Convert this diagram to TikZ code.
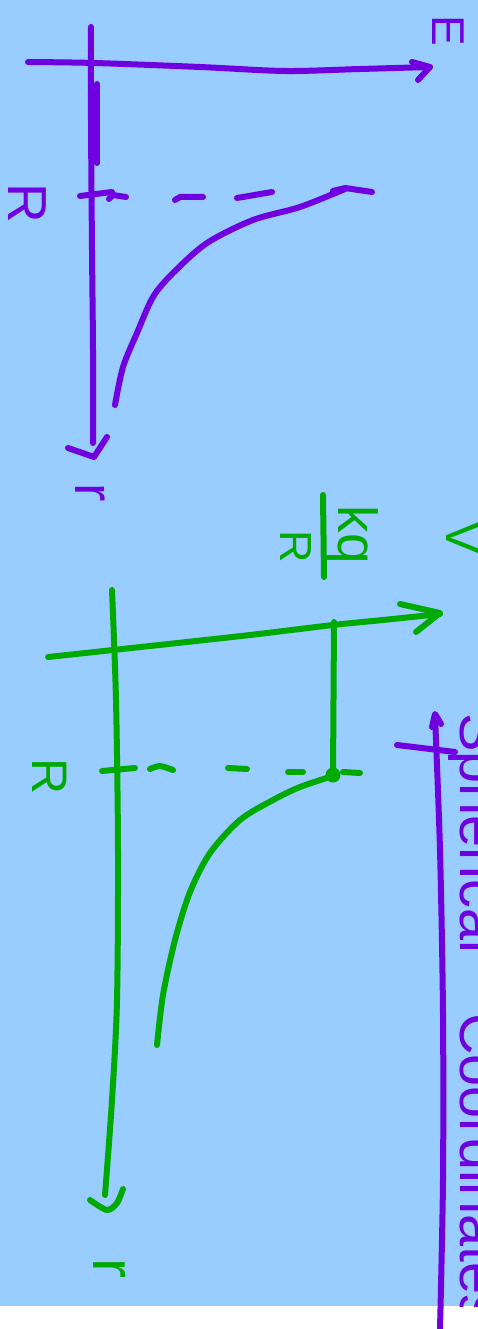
\documentclass[tikz,border=0pt]{standalone}
\usepackage{fontspec}
\setmainfont{Liberation Sans}
\definecolor{bgblue}{RGB}{153,204,255}
\definecolor{pen1}{RGB}{112,0,224}
\definecolor{pen2}{RGB}{0,170,0}
\tikzset{
  ink/.style={line width=6pt,line cap=round,line join=round},
  pur/.style={ink,draw=pen1},
  grn/.style={ink,draw=pen2},
  lbl/.style={rotate=-90,inner sep=0pt,font=\fontsize{#1}{#1}\selectfont},
}
\begin{document}
\begin{tikzpicture}[x=1pt,y=-1pt]
\useasboundingbox (0,0) rectangle (478,1329);
\fill[white] (0,0) rectangle (478,1329);
\fill[bgblue] (0,0) rectangle (478,1306);

% ---------- purple: field E(r) ----------
\draw[pur] plot[smooth] coordinates {(28,62) (95,63) (200,67) (285,71) (360,69) (430,67)};
\draw[pur] (412,62) -- (430,67) -- (418,80);
\draw[pur] plot[smooth] coordinates {(91,27) (91,120) (92,250) (93,350) (93,443)};
\draw[pur] (68,448) -- (94,457) -- (107,437);
\draw[pur] (97,84) -- (97,163);
\draw[pur] (80,196) -- (112,192);
\draw[pur] (109,199) -- (113,195) -- (126,197);
\draw[pur] (175,200) -- (180,197) -- (203,197);
\draw[pur] (237,198) -- (272,192);
\draw[pur] (333,191) -- (345,188) -- (372,192);
\draw[pur] plot[smooth] coordinates {(115,405) (123,367) (137,333) (153,297) (173,273) (207,243) (253,220) (300,207) (345,189)};

\node[lbl=46,text=pen1] (Elab) at (448,31) {E};
\node[lbl=55,text=pen1] (Rp) at (27,203) {R};
\node[lbl=55,text=pen1] (rp) at (90,493) {r};

% ---------- green: potential V(r) ----------
\draw[grn] plot[smooth] coordinates {(48,657) (150,646) (250,635) (333,625) (383,620) (440,614)};
\draw[grn] (400,604) -- (440,613) -- (416,632);
\draw[grn] plot[smooth] coordinates {(112,590) (116,700) (118,850) (117,1000) (112,1100) (105,1195)};
\draw[grn] plot[smooth] coordinates {(90,1200) (107,1210) (117,1203) (123,1189)};
\draw[grn] (102,771) -- (135,768);
\draw[grn] plot[smooth] coordinates {(150,769) (160,766) (173,770)};
\draw[grn] (228,768) -- (247,769);
\draw[grn] (288,772) -- (303,772);
\draw[grn] (343,772) -- (360,773);
\draw[grn] (334,622) -- (333,775);
\fill[pen2] (333,775) circle (7.5);
\draw[grn] plot[smooth] coordinates {(157,1045) (163,995) (175,940) (190,892) (210,853) (240,820) (273,800) (300,787) (333,776)};
\draw[grn] (323,495) -- (324,577);

\node[lbl=50,text=pen2] (Rg) at (50,777) {R};
\node[lbl=55,text=pen2,anchor=base] (kq) at (338,535) {kq};
\node[lbl=45,text=pen2] (Rden) at (296,547) {R};
\node[lbl=50,text=pen2,anchor=south] (V) at (446,538) {V};

% ---------- purple: title line ----------
\draw[pur] (432,727) -- (435,714) -- (441,724);
\draw[pur] plot[smooth] coordinates {(435,716) (440,850) (443,1013) (443,1180) (440,1329)};
\draw[pur] (397,745) -- (455,752);

\begin{scope}
\clip (0,0) rectangle (478,1306);
\node[lbl=60,text=pen2] (rg) at (110,1268) {r};
\node[lbl=57.6,text=pen1,anchor=base west] (sph) at (460,713) {Spherical};
\node[lbl=57.6,text=pen1,anchor=base west] (coord) at (460,1013) {Coordinates};
\end{scope}
\end{tikzpicture}
\end{document}
